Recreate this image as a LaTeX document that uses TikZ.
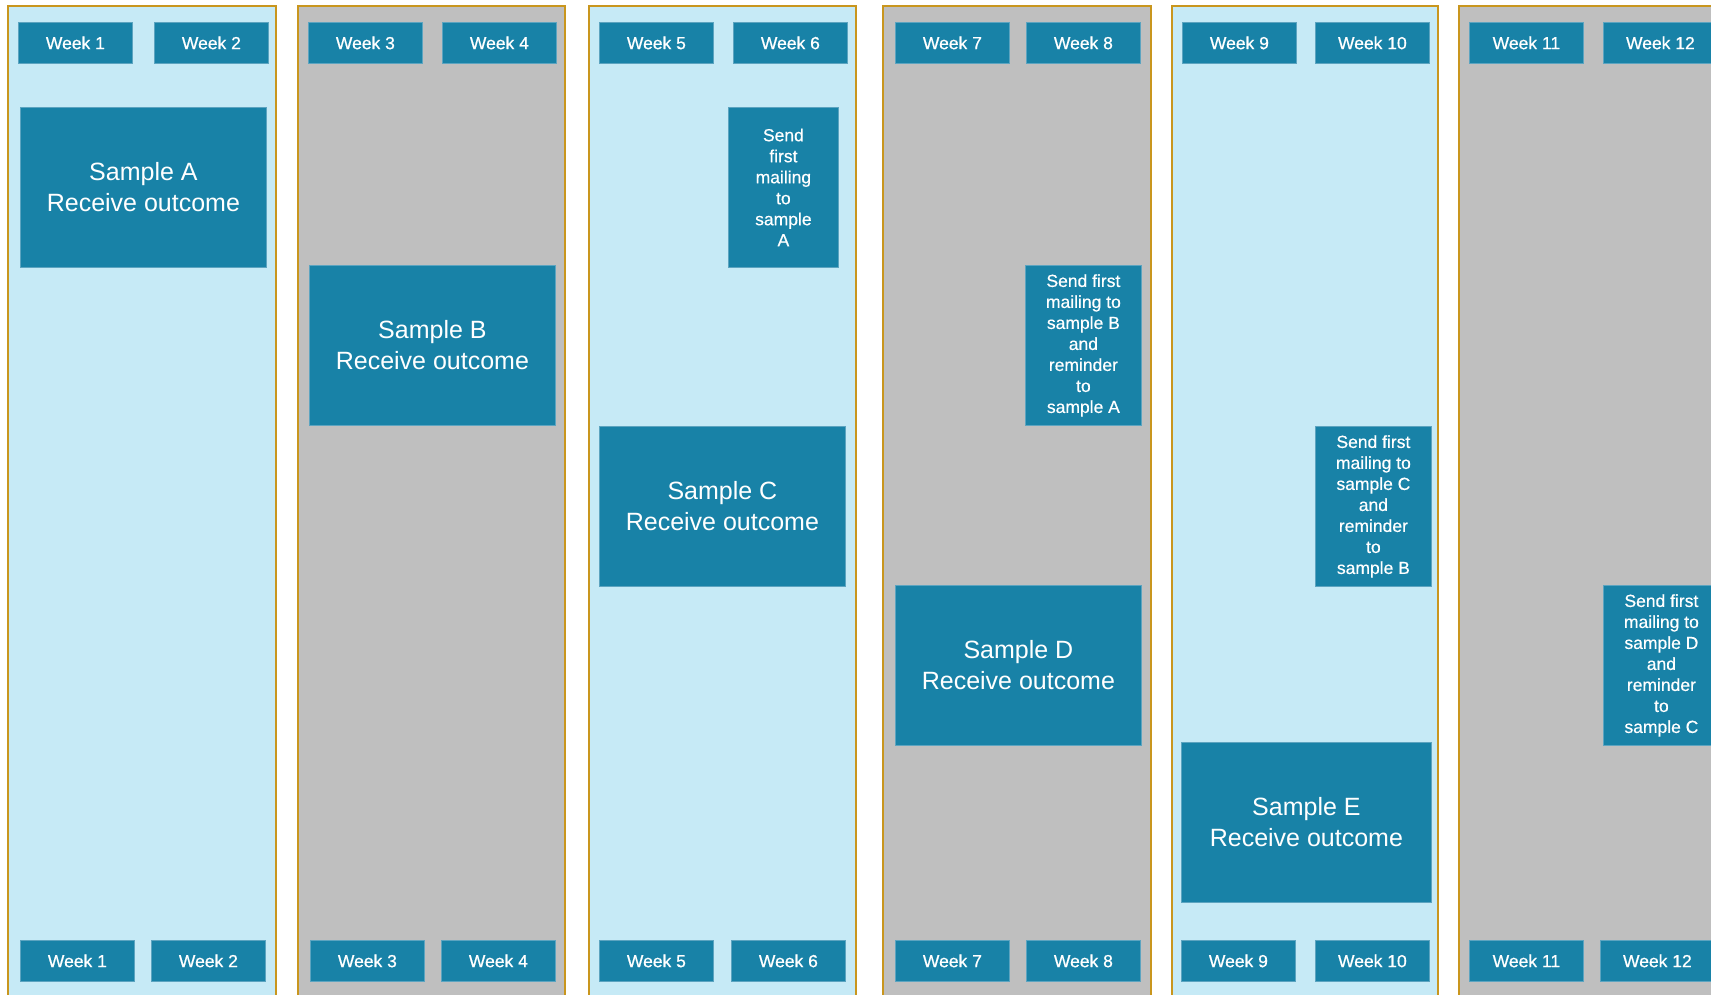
\documentclass[tikz,border=0pt]{standalone}
\usepackage{fontspec}
\setmainfont{Liberation Sans}
\usepackage{tikz}

\definecolor{paleblue}{RGB}{198,234,246}
\definecolor{panelgrey}{RGB}{191,191,191}
\definecolor{tealbox}{RGB}{24,130,167}
\definecolor{tealedge}{RGB}{92,164,192}
\definecolor{goldline}{RGB}{201,150,30}

\tikzset{
    bluepanel/.style={fill=paleblue, draw=goldline, line width=2pt},
    greypanel/.style={fill=panelgrey, draw=goldline, line width=2pt},
    tealnode/.style={anchor=north west, fill=tealbox, draw=tealedge, line width=0.8pt,
        text=white, align=center, inner sep=2pt},
    weekbox/.style={tealnode, minimum width=114pt, minimum height=41pt,
        font=\fontsize{17.5}{21}\selectfont\addfontfeature{FakeBold=0.7}},
    samplebox/.style={tealnode, minimum width=246pt, minimum height=160pt,
        font=\fontsize{25}{31}\selectfont},
    sendbox/.style={tealnode, minimum width=116pt, minimum height=160pt,
        font=\fontsize{17.5}{21}\selectfont\addfontfeature{FakeBold=0.5}},
}

\begin{document}
\begin{tikzpicture}[x=1pt, y=-1pt]
    \useasboundingbox (0,0) rectangle (1711,994);
    \clip (0,0) rectangle (1711,994);
    \fill[white] (0,0) rectangle (1711,994);

    % week columns
    \foreach \p/\l/\r/\sty in {1/8/276/bluepanel, 2/298/565/greypanel, 3/589/856/bluepanel,
                              4/883/1151/greypanel, 5/1172/1438/bluepanel, 6/1459/1727/greypanel}
        \draw[\sty] (\l,6) rectangle (\r,1012);

    % week labels, top and bottom
    \foreach \n/\x in {1/18, 2/154, 3/308, 4/442, 5/599, 6/733,
                       7/895, 8/1026, 9/1182, 10/1315, 11/1469, 12/1603}
        \node[weekbox] (wt\n) at (\x,22) {Week \n};
    \foreach \n/\x in {1/20, 2/151, 3/310, 4/441, 5/599, 6/731,
                       7/895, 8/1026, 9/1181, 10/1315, 11/1469, 12/1600}
        \node[weekbox] (wb\n) at (\x,940) {Week \n};

    % outcomes
    \node[samplebox] (sa) at (20,107)  {Sample A\\Receive outcome};
    \node[samplebox] (sb) at (309,265) {Sample B\\Receive outcome};
    \node[samplebox] (sc) at (599,426) {Sample C\\Receive outcome};
    \node[samplebox] (sd) at (895,585) {Sample D\\Receive outcome};
    \node[samplebox, minimum width=250pt] (se) at (1181,742) {Sample E\\Receive outcome};

    % mailings
    \node[sendbox, minimum width=110pt] (ma) at (728,107) {Send\\first\\mailing\\to\\sample\\A};
    \node[sendbox] (mb) at (1025,265) {Send first\\mailing to\\sample B\\and\\reminder\\to\\sample A};
    \node[sendbox] (mc) at (1315,426) {Send first\\mailing to\\sample C\\and\\reminder\\to\\sample B};
    \node[sendbox] (md) at (1603,585) {Send first\\mailing to\\sample D\\and\\reminder\\to\\sample C};
\end{tikzpicture}
\end{document}
